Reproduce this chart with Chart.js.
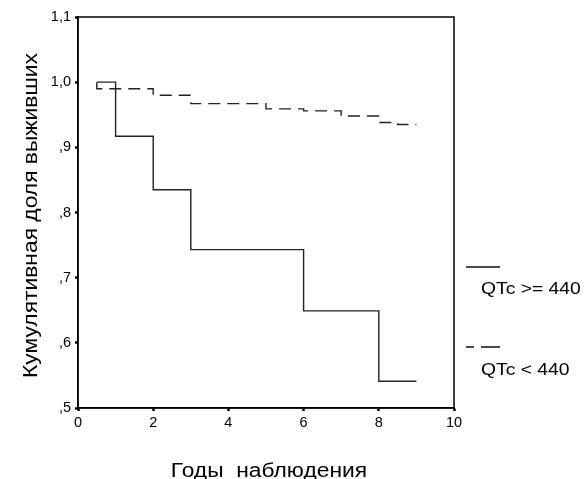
<!DOCTYPE html>
<html>
<head>
<meta charset="utf-8">
<script src="https://cdn.jsdelivr.net/npm/chart.js@4/dist/chart.umd.min.js"></script>
<style>
  html, body { margin: 0; padding: 0; background: #fff; }
  #wrap { width: 588px; height: 479px; }
</style>
</head>
<body>
<div id="wrap"><canvas id="km" width="588" height="479"></canvas></div>
<script>
// Kaplan-Meier steps
var timesHigh = [0.5, 1, 2, 3, 6, 8, 9];
var survHigh = [1.0, 0.917, 0.835, 0.743, 0.649, 0.541, 0.541];

var timesLow = [0.5, 0.5, 2, 3, 5, 6, 7, 8, 8.5, 9];
var survLow = [1.0, 0.99, 0.98, 0.967, 0.959, 0.956, 0.948, 0.938, 0.935, 0.935];

var yTickLabels = [',5', ',6', ',7', ',8', ',9', '1,0', '1,1'];
var xTickLabels = ['0', '2', '4', '6', '8', '10'];
var seriesNames = ['QTc >= 440', 'QTc < 440'];
var xTitle = 'Годы  наблюдения';
var yTitle = 'Кумулятивная доля выживших';

function toPoints(xs, ys) {
    return xs.map(function(x, i) { return {x: x, y: ys[i]}; });
}

var FONT = 'Arial, "Liberation Sans", sans-serif';
var STRETCH = 1.17; // the original's text is set a little wide

// text drawn stretched sideways, at (x,y) with a rotation
function wideText(ctx, txt, x, y, align, rot) {
    ctx.save();
    ctx.translate(x, y);
    if (rot) ctx.rotate(rot);
    ctx.scale(STRETCH, 1);
    ctx.textAlign = align;
    ctx.fillText(txt, 0, 0);
    ctx.restore();
}

// box round the plot, axis titles and the legend
var boxAndLegend = {
    id: 'boxAndLegend',
    afterDraw: function(chart) {
        var ctx = chart.ctx, a = chart.chartArea;
        ctx.save();
        ctx.strokeStyle = '#000';
        ctx.lineWidth = 1.5;
        ctx.strokeRect(a.left, a.top, a.right - a.left, a.bottom - a.top);

        ctx.lineWidth = 1.3;
        ctx.strokeStyle = '#111';
        ctx.beginPath();
        ctx.moveTo(466, 267); ctx.lineTo(500, 267);
        ctx.stroke();
        ctx.beginPath();
        ctx.moveTo(466, 347); ctx.lineTo(474, 347);
        ctx.moveTo(481, 347); ctx.lineTo(500, 347);
        ctx.stroke();

        ctx.fillStyle = '#000';
        ctx.textBaseline = 'alphabetic';
        ctx.font = '16.5px ' + FONT;
        wideText(ctx, seriesNames[0], 481, 294, 'left');
        wideText(ctx, seriesNames[1], 481, 375, 'left');

        ctx.font = '19.5px ' + FONT;
        wideText(ctx, xTitle, (a.left + a.right) / 2 + 3, 477, 'center');
        wideText(ctx, yTitle, 37, (a.top + a.bottom) / 2 + 3, 'center', -Math.PI / 2);
        ctx.restore();
    }
};

new Chart(document.getElementById('km'), {
    type: 'line',
    data: {
        datasets: [{
            label: seriesNames[0],
            data: toPoints(timesHigh, survHigh),
            borderColor: '#222',
            borderWidth: 1.4,
            stepped: 'before',
            pointRadius: 0,
            fill: false
        }, {
            label: seriesNames[1],
            data: toPoints(timesLow, survLow),
            borderColor: '#222',
            borderWidth: 1.4,
            borderDash: [12, 7],
            stepped: 'before',
            pointRadius: 0,
            fill: false
        }]
    },
    options: {
        responsive: false,
        animation: false,
        layout: { padding: { left: 0, top: 17, right: 134, bottom: 0 } },
        plugins: { legend: { display: false }, tooltip: { enabled: false } },
        scales: {
            x: {
                type: 'linear',
                min: 0, max: 10,
                afterFit: function(s) { s.height = 71; },
                afterBuildTicks: function(s) {
                    s.ticks = xTickLabels.map(function(t) { return {value: +t}; });
                },
                ticks: {
                    color: '#000',
                    font: { family: FONT, size: 14.5 },
                    padding: 3,
                    callback: function(v, i) { return xTickLabels[i]; }
                },
                grid: { drawOnChartArea: false, tickLength: 3, tickWidth: 2.5, color: '#000' },
                border: { color: '#000', width: 1.5 }
            },
            y: {
                min: 0.5, max: 1.1,
                afterFit: function(s) { s.width = 78; },
                afterBuildTicks: function(s) {
                    s.ticks = yTickLabels.map(function(t, i) { return {value: 0.5 + i * 0.1}; });
                },
                ticks: {
                    color: '#000',
                    font: { family: FONT, size: 14.5 },
                    padding: 4,
                    callback: function(v, i) { return yTickLabels[i]; }
                },
                grid: { drawOnChartArea: false, tickLength: 3, tickWidth: 2.5, color: '#000' },
                border: { color: '#000', width: 1.5 }
            }
        }
    },
    plugins: [boxAndLegend]
});
</script>
</body>
</html>
